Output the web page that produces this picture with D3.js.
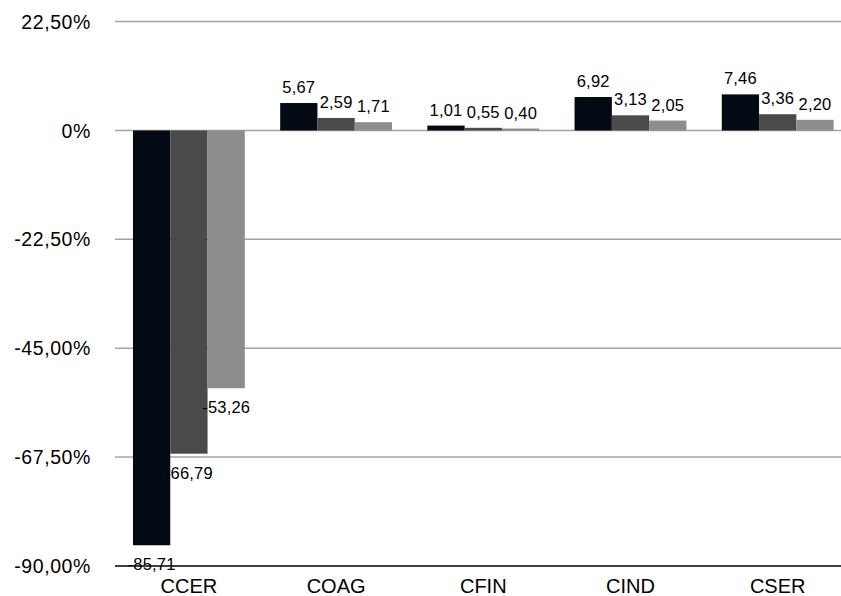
<!DOCTYPE html>
<html>
<head>
<meta charset="utf-8">
<script src="https://cdn.jsdelivr.net/npm/d3@7"></script>
<style>
  html, body { margin: 0; padding: 0; background: #fff; }
  svg { display: block; }
  text { font-family: "Liberation Sans", Arial, Helvetica, sans-serif; fill: #000; }
</style>
</head>
<body>
<svg id="chart" width="841" height="596"></svg>
<script>
// Sectors on the x axis
const categories = ["CCER", "COAG", "CFIN", "CIND", "CSER"];
// Three series per sector (percent)
const series1 = [-85.71, 5.67, 1.01, 6.92, 7.46];
const series2 = [-66.79, 2.59, 0.55, 3.13, 3.36];
const series3 = [-53.26, 1.71, 0.40, 2.05, 2.20];
const seriesColors = ["#030a13", "#4a4a4a", "#8d8d8d"];
// Y axis ticks
const yTicks = [22.5, 0, -22.5, -45, -67.5, -90];

const svg = d3.select("#chart");
const width = 841;

const y = d3.scaleLinear().domain([-90, 22.5]).range([566, 21.6]);
const x0 = d3.scaleBand().domain(categories).range([115.3, 851.3]).paddingInner(0.24).paddingOuter(0.12);
const keys = [0, 1, 2];
const x1 = d3.scaleBand().domain(keys).range([0, x0.bandwidth()]).padding(0);

const fmtNum = v => v.toFixed(2).replace(".", ",");
const fmtTick = v => v === 0 ? "0%" : v.toFixed(2).replace(".", ",") + "%";

// Gridlines
svg.append("g").selectAll("line")
  .data(yTicks.filter(t => t !== -90))
  .join("line")
  .attr("x1", 115).attr("x2", width)
  .attr("y1", d => y(d)).attr("y2", d => y(d))
  .attr("stroke", "#a3a3a3").attr("stroke-width", 1.5);

// Y tick labels
svg.append("g").selectAll("text")
  .data(yTicks)
  .join("text")
  .attr("x", 91).attr("y", d => y(d))
  .attr("dy", "0.36em")
  .attr("text-anchor", "end")
  .attr("font-size", 19.5)
  .attr("letter-spacing", 0.6)
  .text(fmtTick);

const data = categories.map((c, i) => ({ cat: c, vals: [series1[i], series2[i], series3[i]] }));

const groups = svg.append("g").selectAll("g")
  .data(data)
  .join("g")
  .attr("transform", d => `translate(${x0(d.cat)},0)`);

groups.selectAll("rect")
  .data(d => d.vals.map((v, k) => ({ v, k })))
  .join("rect")
  .attr("x", d => x1(d.k))
  .attr("width", x1.bandwidth())
  .attr("y", d => y(Math.max(0, d.v)))
  .attr("height", d => Math.abs(y(d.v) - y(0)))
  .attr("fill", d => seriesColors[d.k]);

// X axis line
svg.append("line")
  .attr("x1", 115).attr("x2", width)
  .attr("y1", y(-90)).attr("y2", y(-90))
  .attr("stroke", "#000").attr("stroke-width", 1.5);

// Value labels
groups.selectAll("text.val")
  .data(d => d.vals.map((v, k) => ({ v, k })))
  .join("text")
  .attr("class", "val")
  .attr("x", d => x1(d.k) + x1.bandwidth() / 2)
  .attr("y", d => d.v >= 0 ? y(d.v) - 10 : y(d.v) + 25)
  .attr("text-anchor", "middle")
  .attr("font-size", 16.5)
  .attr("letter-spacing", 0.2)
  .text(d => fmtNum(d.v));

// Category labels
svg.append("g").selectAll("text")
  .data(categories)
  .join("text")
  .attr("x", d => x0(d) + x0.bandwidth() / 2)
  .attr("y", 593)
  .attr("text-anchor", "middle")
  .attr("font-size", 20)
  .text(d => d);
</script>
</body>
</html>
